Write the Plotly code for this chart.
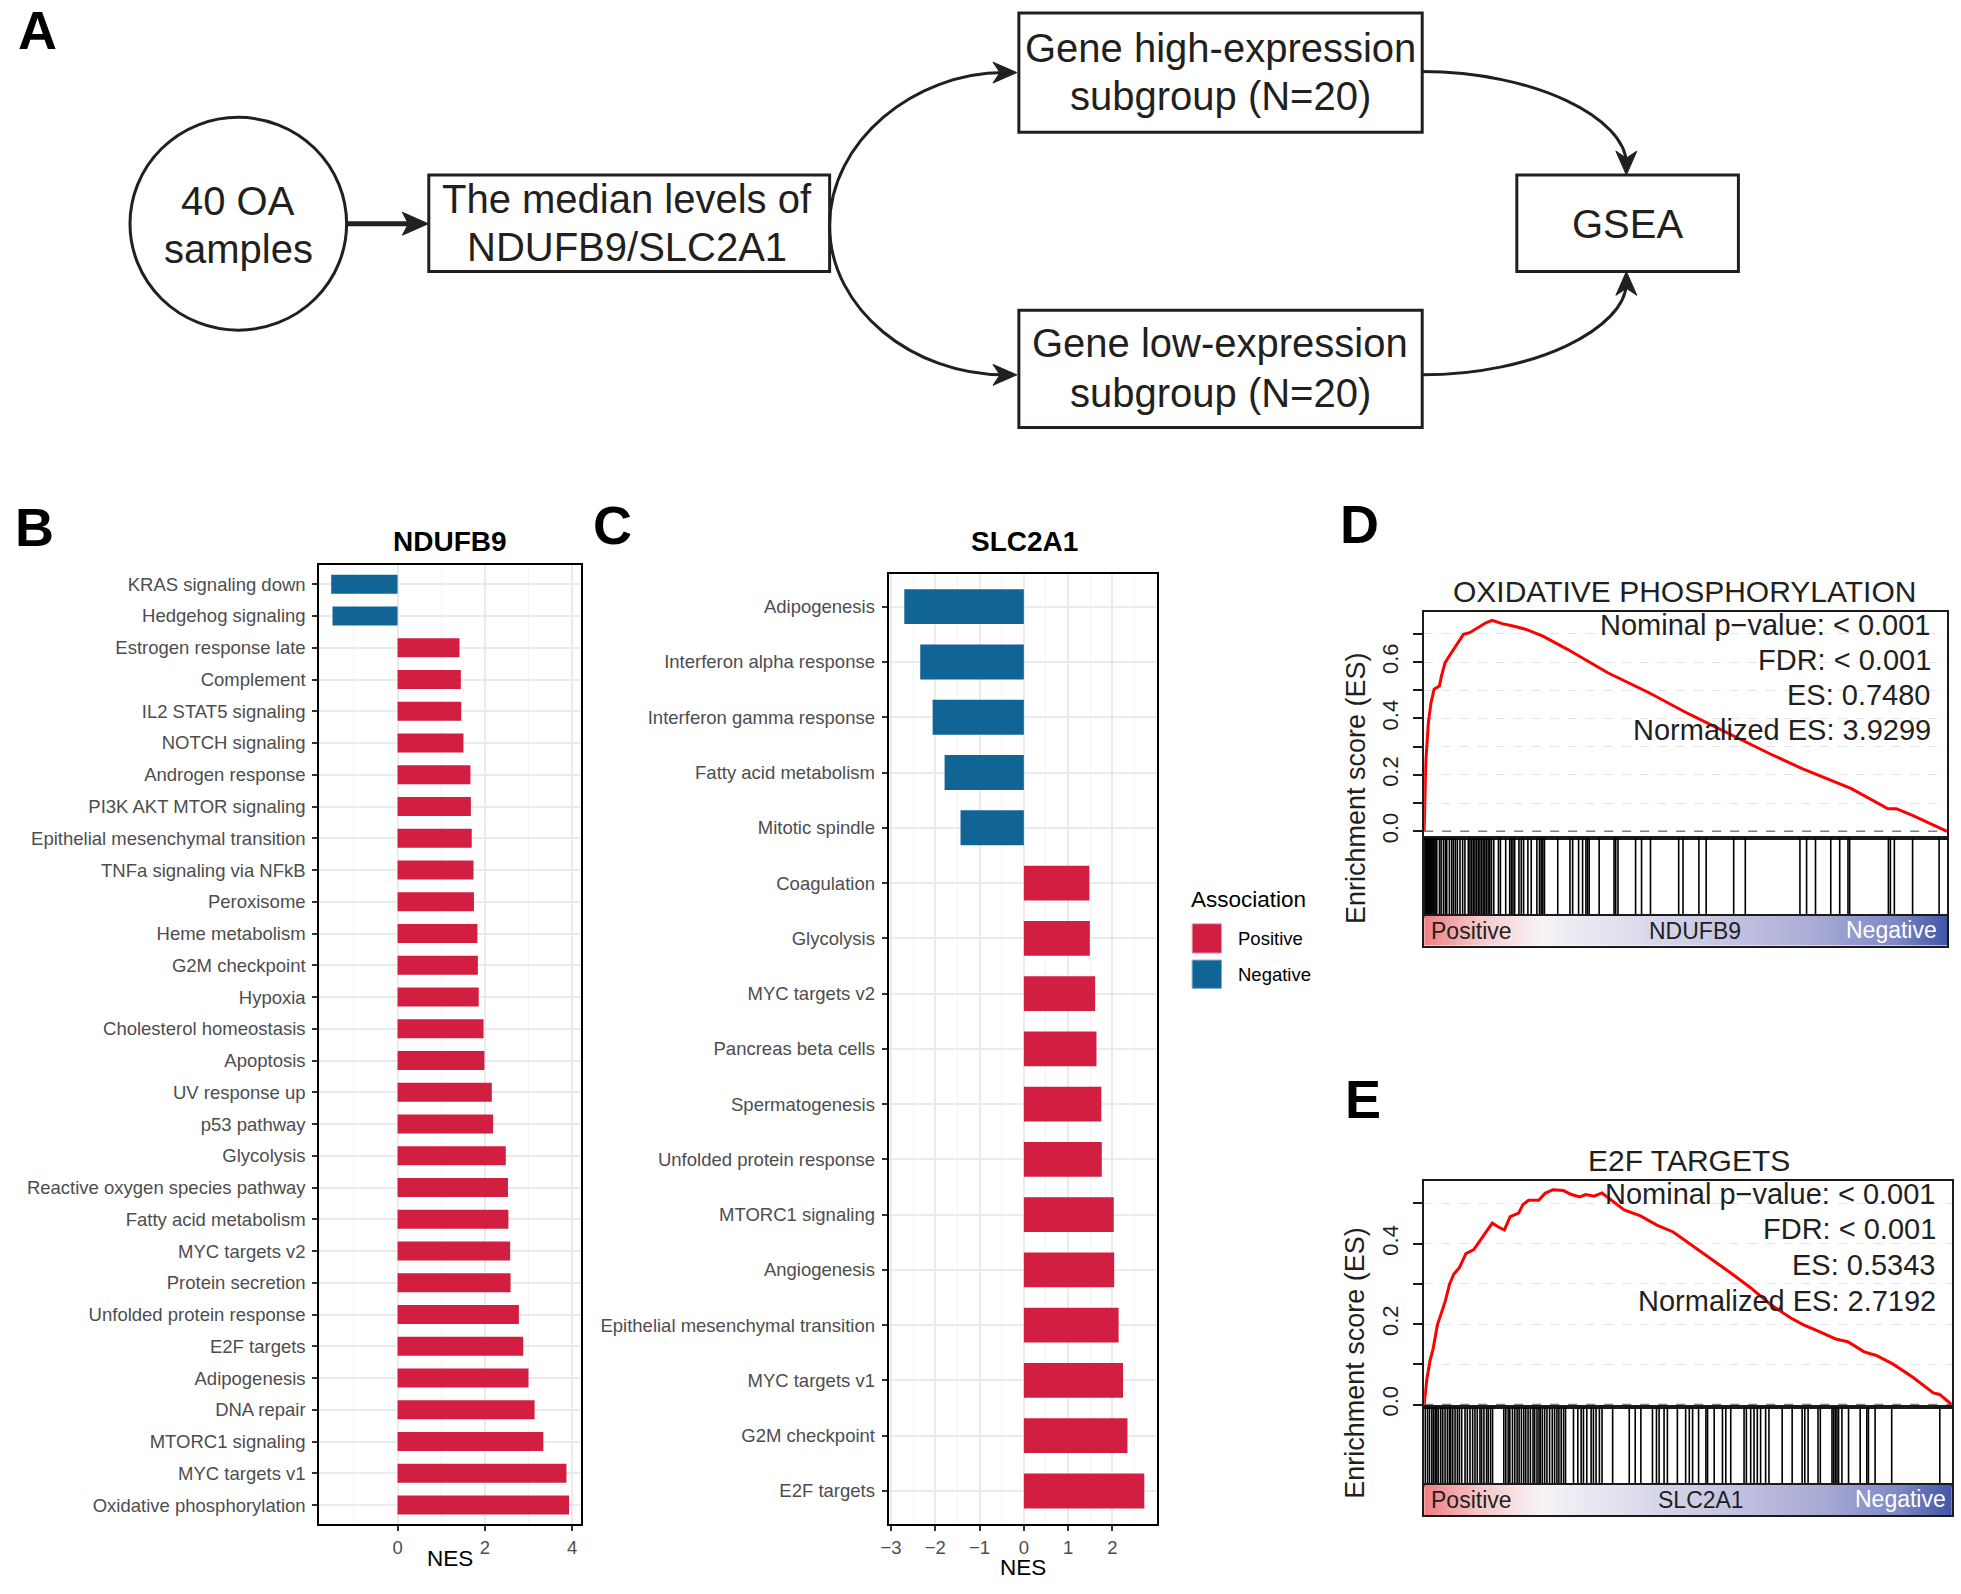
import plotly.graph_objects as go

W, H = 1961, 1594
FONT = "Liberation Sans, Arial, Helvetica, sans-serif"
RED = "#D21E40"
BLUE = "#116496"
TXT = "#231F20"

# ---------------- data ----------------
b_terms = ["KRAS signaling down", "Hedgehog signaling", "Estrogen response late", "Complement",
           "IL2 STAT5 signaling", "NOTCH signaling", "Androgen response", "PI3K AKT MTOR signaling",
           "Epithelial mesenchymal transition", "TNFa signaling via NFkB", "Peroxisome",
           "Heme metabolism", "G2M checkpoint", "Hypoxia", "Cholesterol homeostasis", "Apoptosis",
           "UV response up", "p53 pathway", "Glycolysis", "Reactive oxygen species pathway",
           "Fatty acid metabolism", "MYC targets v2", "Protein secretion", "Unfolded protein response",
           "E2F targets", "Adipogenesis", "DNA repair", "MTORC1 signaling", "MYC targets v1",
           "Oxidative phosphorylation"]
b_nes = [-1.52, -1.49, 1.42, 1.45, 1.46, 1.51, 1.67, 1.68, 1.70, 1.74, 1.75, 1.83, 1.84, 1.86,
         1.97, 1.99, 2.16, 2.19, 2.48, 2.53, 2.54, 2.58, 2.59, 2.78, 2.88, 3.00, 3.14, 3.34, 3.87, 3.93]

c_terms = ["Adipogenesis", "Interferon alpha response", "Interferon gamma response",
           "Fatty acid metabolism", "Mitotic spindle", "Coagulation", "Glycolysis", "MYC targets v2",
           "Pancreas beta cells", "Spermatogenesis", "Unfolded protein response", "MTORC1 signaling",
           "Angiogenesis", "Epithelial mesenchymal transition", "MYC targets v1", "G2M checkpoint",
           "E2F targets"]
c_nes = [-2.70, -2.34, -2.06, -1.79, -1.43, 1.48, 1.49, 1.61, 1.64, 1.75, 1.76, 2.03, 2.04, 2.14,
         2.24, 2.34, 2.72]

# GSEA running enrichment score, panel D (rank position as fraction of list)
d_rank = [0, 0.003, 0.008, 0.013, 0.019, 0.029, 0.033, 0.040, 0.052, 0.064, 0.075, 0.087, 0.103,
          0.118, 0.130, 0.149, 0.172, 0.196, 0.227, 0.274, 0.351, 0.429, 0.507, 0.584, 0.662, 0.724,
          0.817, 0.887, 0.903, 0.934, 0.988, 1.0]
d_es = [0, 0.245, 0.386, 0.456, 0.504, 0.515, 0.550, 0.598, 0.633, 0.668, 0.698, 0.704, 0.721,
        0.739, 0.748, 0.736, 0.727, 0.715, 0.692, 0.645, 0.562, 0.492, 0.415, 0.345, 0.274, 0.221,
        0.151, 0.080, 0.080, 0.056, 0.009, 0]
d_hits = [0.0, 0.0019, 0.0038, 0.0057, 0.0076, 0.0095, 0.0114, 0.0133, 0.0152, 0.0171, 0.0190,
          0.0209, 0.0241, 0.0292, 0.0323, 0.0368, 0.0406, 0.0431, 0.0482, 0.0526, 0.0558, 0.0596,
          0.0634, 0.0684, 0.0735, 0.0779, 0.0843, 0.0875, 0.0906, 0.0938, 0.0970, 0.1001, 0.1033,
          0.1065, 0.1096, 0.1128, 0.1160, 0.1191, 0.1223, 0.1255, 0.1287, 0.1331, 0.1420, 0.1458,
          0.1559, 0.1635, 0.1667, 0.1698, 0.1730, 0.1812, 0.1857, 0.1901, 0.1983, 0.2047, 0.2155,
          0.2205, 0.2237, 0.2269, 0.2300, 0.2554, 0.2788, 0.2839, 0.2953, 0.3029, 0.3093, 0.3124,
          0.3156, 0.3346, 0.3631, 0.3663, 0.3707, 0.4043, 0.4157, 0.4328, 0.4867, 0.4950, 0.5254,
          0.5393, 0.5919, 0.6141, 0.7186, 0.7313, 0.7484, 0.7776, 0.7947, 0.8105, 0.8137, 0.8878,
          0.8916, 0.8992, 0.9341, 0.9848]

# panel E
e_rank = [0, 0.005, 0.011, 0.017, 0.025, 0.032, 0.040, 0.048, 0.056, 0.067, 0.079, 0.094, 0.106,
          0.117, 0.129, 0.140, 0.152, 0.163, 0.179, 0.187, 0.198, 0.217, 0.229, 0.244, 0.264, 0.279,
          0.295, 0.306, 0.322, 0.337, 0.349, 0.379, 0.410, 0.441, 0.472, 0.503, 0.541, 0.580, 0.618,
          0.657, 0.695, 0.719, 0.749, 0.780, 0.803, 0.834, 0.857, 0.888, 0.927, 0.965, 0.977, 0.988, 1.0]
e_es = [0, 0.063, 0.109, 0.139, 0.198, 0.223, 0.257, 0.299, 0.324, 0.341, 0.375, 0.385, 0.408,
        0.429, 0.451, 0.442, 0.434, 0.467, 0.476, 0.497, 0.508, 0.508, 0.525, 0.534, 0.532, 0.522,
        0.516, 0.522, 0.518, 0.526, 0.514, 0.484, 0.469, 0.446, 0.429, 0.400, 0.366, 0.328, 0.291,
        0.248, 0.215, 0.198, 0.181, 0.163, 0.156, 0.131, 0.122, 0.101, 0.067, 0.029, 0.025, 0.014, 0]
e_hits = [0.0019, 0.0063, 0.0101, 0.0145, 0.0176, 0.0208, 0.0239, 0.0270, 0.0314, 0.0352, 0.0396,
          0.0440, 0.0478, 0.0503, 0.0541, 0.0585, 0.0629, 0.0667, 0.0711, 0.0774, 0.0818, 0.0868,
          0.0918, 0.0962, 0.1006, 0.1057, 0.1088, 0.1132, 0.1182, 0.1214, 0.1258, 0.1296, 0.1509,
          0.1547, 0.1591, 0.1623, 0.1673, 0.1717, 0.1761, 0.1799, 0.1843, 0.1887, 0.1925, 0.1969,
          0.2013, 0.2063, 0.2094, 0.2138, 0.2176, 0.2201, 0.2239, 0.2283, 0.2327, 0.2377, 0.2428,
          0.2472, 0.2516, 0.2553, 0.2597, 0.2642, 0.2679, 0.2830, 0.2912, 0.2975, 0.3019, 0.3082,
          0.3164, 0.3208, 0.3258, 0.3321, 0.3371, 0.3572, 0.3887, 0.4000, 0.4107, 0.4327, 0.4403,
          0.4453, 0.4547, 0.4610, 0.4799, 0.4956, 0.5025, 0.5088, 0.5201, 0.5340, 0.5371, 0.5497,
          0.5654, 0.5717, 0.5811, 0.6063, 0.6107, 0.6189, 0.6252, 0.6314, 0.6377, 0.6472, 0.6535,
          0.6786, 0.6975, 0.7164, 0.7214, 0.7277, 0.7465, 0.7509, 0.7730, 0.7761, 0.7792, 0.7824,
          0.7855, 0.7918, 0.8044, 0.8264, 0.8390, 0.8421, 0.8547, 0.8862, 0.9774]

d_stats = ["Nominal p\u2212value: < 0.001", "FDR: < 0.001", "ES: 0.7480", "Normalized ES: 3.9299"]
e_stats = ["Nominal p\u2212value: < 0.001", "FDR: < 0.001", "ES: 0.5343", "Normalized ES: 2.7192"]

# ranked-list colour bar (position -> colour)
grad_pos = [0, 0.1, 0.22, 0.35, 0.55, 0.75, 0.9, 1.0]
grad_col = ["#EE7E83", "#F6C6C8", "#F7F3F6", "#E3E3F0", "#C8C8E3", "#A9ABD6", "#7E88C4", "#3F55A6"]

# ---------------- helpers ----------------
def dx(x0, x1):
    return [x0 / W, x1 / W]


def dy(y0, y1):
    return [1 - y1 / H, 1 - y0 / H]


fig = go.Figure()

# ---------------- panel B ----------------
for sign, col in ((1, RED), (-1, BLUE)):
    xs = [v for v in b_nes if v * sign > 0]
    ys = [t for t, v in zip(b_terms, b_nes) if v * sign > 0]
    fig.add_trace(go.Bar(x=xs, y=ys, orientation="h", marker=dict(color=col, line=dict(width=0)),
                         width=0.6, xaxis="x", yaxis="y", hoverinfo="x+y"))

# ---------------- panel C ----------------
for sign, col in ((1, RED), (-1, BLUE)):
    xs = [v for v in c_nes if v * sign > 0]
    ys = [t for t, v in zip(c_terms, c_nes) if v * sign > 0]
    fig.add_trace(go.Bar(x=xs, y=ys, orientation="h", marker=dict(color=col, line=dict(width=0)),
                         width=0.63, xaxis="x2", yaxis="y2", hoverinfo="x+y"))


# ---------------- GSEA panels ----------------
def rug(hits):
    xs, ys = [], []
    for h in hits:
        xs += [h, h, None]
        ys += [0, 1, None]
    return xs, ys


for rank, es, hits, ax in ((d_rank, d_es, d_hits, (3, 4, 5)), (e_rank, e_es, e_hits, (6, 7, 8))):
    a_es, a_rug, a_gr = ax
    fig.add_trace(go.Scatter(x=[0, 1], y=[0, 0], mode="lines", hoverinfo="skip",
                             line=dict(color="#7F7F7F", width=1.5, dash="dash"),
                             xaxis=f"x{a_es}", yaxis=f"y{a_es}"))
    fig.add_trace(go.Scatter(x=rank, y=es, mode="lines", line=dict(color="#FF0000", width=3),
                             xaxis=f"x{a_es}", yaxis=f"y{a_es}"))
    rx, ry = rug(hits)
    fig.add_trace(go.Scatter(x=rx, y=ry, mode="lines", line=dict(color="black", width=1.6),
                             xaxis=f"x{a_rug}", yaxis=f"y{a_rug}", hoverinfo="skip"))
    fig.add_trace(go.Heatmap(z=[grad_pos], x=grad_pos, y=[0], zmin=0, zmax=1, zsmooth="best",
                             colorscale=[[p, c] for p, c in zip(grad_pos, grad_col)],
                             showscale=False, xaxis=f"x{a_gr}", yaxis=f"y{a_gr}", hoverinfo="skip"))

# invisible overlay axis in pixel units (for the flow chart and labels)
fig.add_trace(go.Scatter(x=[None], y=[None], xaxis="x9", yaxis="y9", showlegend=False))

# ---------------- layout / axes ----------------
tickfont = dict(family=FONT, size=18.5, color="#4D4D4D")
layout = dict(
    width=W, height=H, margin=dict(l=0, r=0, t=0, b=0),
    paper_bgcolor="white", plot_bgcolor="rgba(0,0,0,0)", showlegend=False,
    font=dict(family=FONT, color=TXT), barmode="overlay",
)

# panel B axes
layout["xaxis"] = dict(domain=dx(312.7, 575.2), anchor="y", range=[-1.79, 4.2], tickvals=[0, 2, 4],
                       ticks="outside", ticklen=5, tickwidth=1.5, tickcolor="#333333",
                       tickfont=tickfont, ticklabelstandoff=1, showgrid=True, gridcolor="#EBEBEB",
                       gridwidth=1.6,
                       minor=dict(dtick=1, tick0=0, showgrid=True, gridcolor="#F3F3F3", gridwidth=1),
                       zeroline=False, showline=True, mirror=True, linecolor="black", linewidth=2.2)
layout["yaxis"] = dict(domain=dy(568.4, 1532.8), anchor="x", type="category",
                       categoryorder="array", categoryarray=b_terms,
                       range=[len(b_terms) - 0.4, -0.6], ticks="outside", ticklen=5, tickwidth=1.5,
                       tickcolor="#333333", tickfont=tickfont, ticklabelstandoff=3,
                       showgrid=True, gridcolor="#EBEBEB", gridwidth=1.6, zeroline=False,
                       showline=True, mirror=True, linecolor="black", linewidth=2.2)
# panel C axes
layout["xaxis2"] = dict(domain=dx(884.4, 1153.4), anchor="y2", range=[-3.05, 3.0],
                        tickvals=[-3, -2, -1, 0, 1, 2], ticks="outside", ticklen=5, tickwidth=1.5,
                        tickcolor="#333333", tickfont=tickfont, ticklabelstandoff=1, showgrid=True,
                        gridcolor="#EBEBEB", gridwidth=1.6,
                        minor=dict(dtick=0.5, tick0=0, showgrid=True, gridcolor="#F3F3F3", gridwidth=1),
                        zeroline=False, showline=True, mirror=True, linecolor="black", linewidth=2.2)
layout["yaxis2"] = dict(domain=dy(576.8, 1532.8), anchor="x2", type="category",
                        categoryorder="array", categoryarray=c_terms,
                        range=[len(c_terms) - 0.4, -0.6], ticks="outside", ticklen=5, tickwidth=1.5,
                        tickcolor="#333333", tickfont=tickfont, ticklabelstandoff=3,
                        showgrid=True, gridcolor="#EBEBEB", gridwidth=1.6, zeroline=False,
                        showline=True, mirror=True, linecolor="black", linewidth=2.2)

box = dict(showline=True, mirror=True, linecolor="#1A1A1A", linewidth=2, zeroline=False)
hidden = dict(showgrid=False, showticklabels=False, ticks="")


def gsea_axes(es_i, rug_i, gr_i, x0, x1, y0, y1, y2, y3, es_range, es_ticks):
    xd = dx(x0, x1)
    layout[f"xaxis{es_i}"] = dict(domain=xd, anchor=f"y{es_i}", range=[0, 1], **hidden, **box)
    layout[f"yaxis{es_i}"] = dict(domain=dy(y0, y1), anchor=f"x{es_i}", range=es_range,
                                  tickvals=es_ticks, ticktext=[f"{t:.1f}" for t in es_ticks],
                                  ticks="outside", ticklen=9, tickwidth=1.5, tickcolor="#1A1A1A",
                                  tickangle=-90, ticklabelstandoff=6,
                                  tickfont=dict(family=FONT, size=22, color=TXT),
                                  showgrid=True, gridcolor="#E4E4E4", gridwidth=1, griddash="dash",
                                  minor=dict(dtick=0.1, tick0=0, ticks="outside", ticklen=9,
                                             tickwidth=1.5, tickcolor="#1A1A1A", showgrid=True,
                                             gridcolor="#E4E4E4", gridwidth=1, griddash="dash"),
                                  **box)
    layout[f"xaxis{rug_i}"] = dict(domain=xd, anchor=f"y{rug_i}", range=[0, 1], **hidden, **box)
    layout[f"yaxis{rug_i}"] = dict(domain=dy(y1, y2), anchor=f"x{rug_i}", range=[0, 1], **hidden, **box)
    layout[f"xaxis{gr_i}"] = dict(domain=xd, anchor=f"y{gr_i}", range=[0, 1], **hidden, **box)
    layout[f"yaxis{gr_i}"] = dict(domain=dy(y2, y3), anchor=f"x{gr_i}", range=[-0.5, 0.5], **hidden, **box)


gsea_axes(3, 4, 5, 1422, 1947, 615, 842.7, 920.7, 951, [-0.0236, 0.779], [0, 0.2, 0.4, 0.6])
gsea_axes(6, 7, 8, 1422, 1951.7, 1188, 1415.2, 1493.2, 1523.9, [-0.0067, 0.555], [0, 0.2, 0.4])

layout["xaxis9"] = dict(domain=[0, 1], anchor="y9", range=[0, W], visible=False, fixedrange=True)
layout["yaxis9"] = dict(domain=[0, 1], anchor="x9", range=[H, 0], visible=False, fixedrange=True)

fig.update_layout(**layout)

# ---------------- annotations ----------------
ann = []


def text(x, y, s, size, color=TXT, anchor="center", bold=False, angle=0, yanchor="middle"):
    ann.append(dict(x=x, y=y, xref="x9", yref="y9", text=f"<b>{s}</b>" if bold else s,
                    showarrow=False, xanchor=anchor, yanchor=yanchor, textangle=angle,
                    font=dict(family=FONT, size=size, color=color)))


# panel letters
for lab, x, y in (("A", 30, 30), ("B", 27, 530), ("C", 607, 528), ("D", 1357, 527), ("E", 1361, 1105)):
    text(x, y, lab, 54, color="black", bold=True)

# flow chart text
text(231, 202, "40 OA", 40)
text(231, 250, "samples", 40)
text(622, 200, "The median levels of", 40)
text(622, 248, "NDUFB9/SLC2A1", 40)
text(1217, 48, "Gene high-expression", 40)
text(1217, 97, "subgroup (N=20)", 40)
text(1217, 345, "Gene low-expression", 40)
text(1217, 395, "subgroup (N=20)", 40)
text(1626, 225, "GSEA", 40)

# panel B / C titles and axis titles
text(444, 545, "NDUFB9", 28, color="black", bold=True)
text(1021, 545, "SLC2A1", 28, color="black", bold=True)
text(444, 1567, "NES", 22.5, color="black")
text(1019, 1576, "NES", 22.5, color="black")

# legend (panel C)
text(1186, 905, "Association", 22.5, color="black", anchor="left")
text(1233, 944, "Positive", 18.5, color="black", anchor="left")
text(1233, 980, "Negative", 18.5, color="black", anchor="left")

# GSEA texts
text(1683, 595, "OXIDATIVE PHOSPHORYLATION", 30)
for s, y in zip(d_stats, (629, 664, 699, 734)):
    text(1933, y, s, 29, anchor="right")
text(1688, 1167, "E2F TARGETS", 30)
for s, y in zip(e_stats, (1201, 1236, 1272, 1308)):
    text(1938, y, s, 29, anchor="right")

text(1353, 792, "Enrichment score (ES)", 27, angle=-90)
text(1353, 1370, "Enrichment score (ES)", 27, angle=-90)

text(1427, 936, "Positive", 23, anchor="left")
text(1694, 936, "NDUFB9", 23)
text(1939, 935, "Negative", 23, color="white", anchor="right")
text(1427, 1509, "Positive", 23, anchor="left")
text(1700, 1509, "SLC2A1", 23)
text(1948, 1508, "Negative", 23, color="white", anchor="right")

fig.update_layout(annotations=ann)

# ---------------- shapes ----------------
shapes = []
LW = 3
pix = dict(xref="x9", yref="y9")

# circle and boxes
shapes.append(dict(type="circle", x0=122.5, x1=340, y0=118, y1=332, line=dict(color=TXT, width=LW), **pix))
for x0, x1, y0, y1 in ((422.5, 825, 176, 273), (1015, 1420, 13, 133), (1015, 1420, 312, 430),
                       (1515, 1737.5, 176, 273)):
    shapes.append(dict(type="rect", x0=x0, x1=x1, y0=y0, y1=y1, line=dict(color=TXT, width=LW), **pix))

# straight arrow circle -> box
shapes.append(dict(type="line", x0=340, x1=402, y0=225, y1=225, line=dict(color=TXT, width=5), **pix))


def head(tx, ty, direction, L=24, Wd=10.5, notch=7):
    if direction == "r":
        pts = [(tx, ty), (tx - L, ty - Wd), (tx - L + notch, ty), (tx - L, ty + Wd)]
    elif direction == "d":
        pts = [(tx, ty), (tx - Wd, ty - L), (tx, ty - L + notch), (tx + Wd, ty - L)]
    else:
        pts = [(tx, ty), (tx - Wd, ty + L), (tx, ty + L - notch), (tx + Wd, ty + L)]
    p = "M " + " L ".join(f"{x},{y}" for x, y in pts) + " Z"
    return dict(type="path", path=p, fillcolor=TXT, line=dict(color=TXT, width=1), **pix)


shapes.append(head(422, 225, "r", L=26, Wd=11.5, notch=6))

# curved connectors
curves = ["M 825,227 C 825,142 910,73 1000,73",
          "M 825,227 C 825,312 910,377 1000,377",
          "M 1420,72 C 1533,72 1625,119 1625,165",
          "M 1420,377 C 1533,377 1625,330 1625,284"]
for c in curves:
    shapes.append(dict(type="path", path=c, line=dict(color=TXT, width=LW), **pix))
shapes.append(head(1013, 73, "r"))
shapes.append(head(1013, 377, "r"))
shapes.append(head(1625, 176, "d"))
shapes.append(head(1625, 273, "u"))

# legend keys
shapes.append(dict(type="rect", x0=1189, x1=1218.5, y0=929, y1=958.5, fillcolor=RED,
                   line=dict(color="#E8A0AE", width=1), **pix))
shapes.append(dict(type="rect", x0=1189, x1=1218.5, y0=965.5, y1=994, fillcolor=BLUE,
                   line=dict(color="#7FA9C6", width=1), **pix))

fig.update_layout(shapes=shapes)

page_fix = (
    "document.documentElement.style.margin='0';document.documentElement.style.padding='0';"
    "document.documentElement.style.overflow='hidden';"
    "document.body.style.margin='0';document.body.style.padding='0';"
    "document.body.style.overflow='hidden';"
    "var gd=document.getElementById('{plot_id}');"
    "gd.style.position='fixed';gd.style.left='0px';gd.style.top='0px';"
)
fig.write_html("out.html", config={"displayModeBar": False}, post_script=page_fix)
